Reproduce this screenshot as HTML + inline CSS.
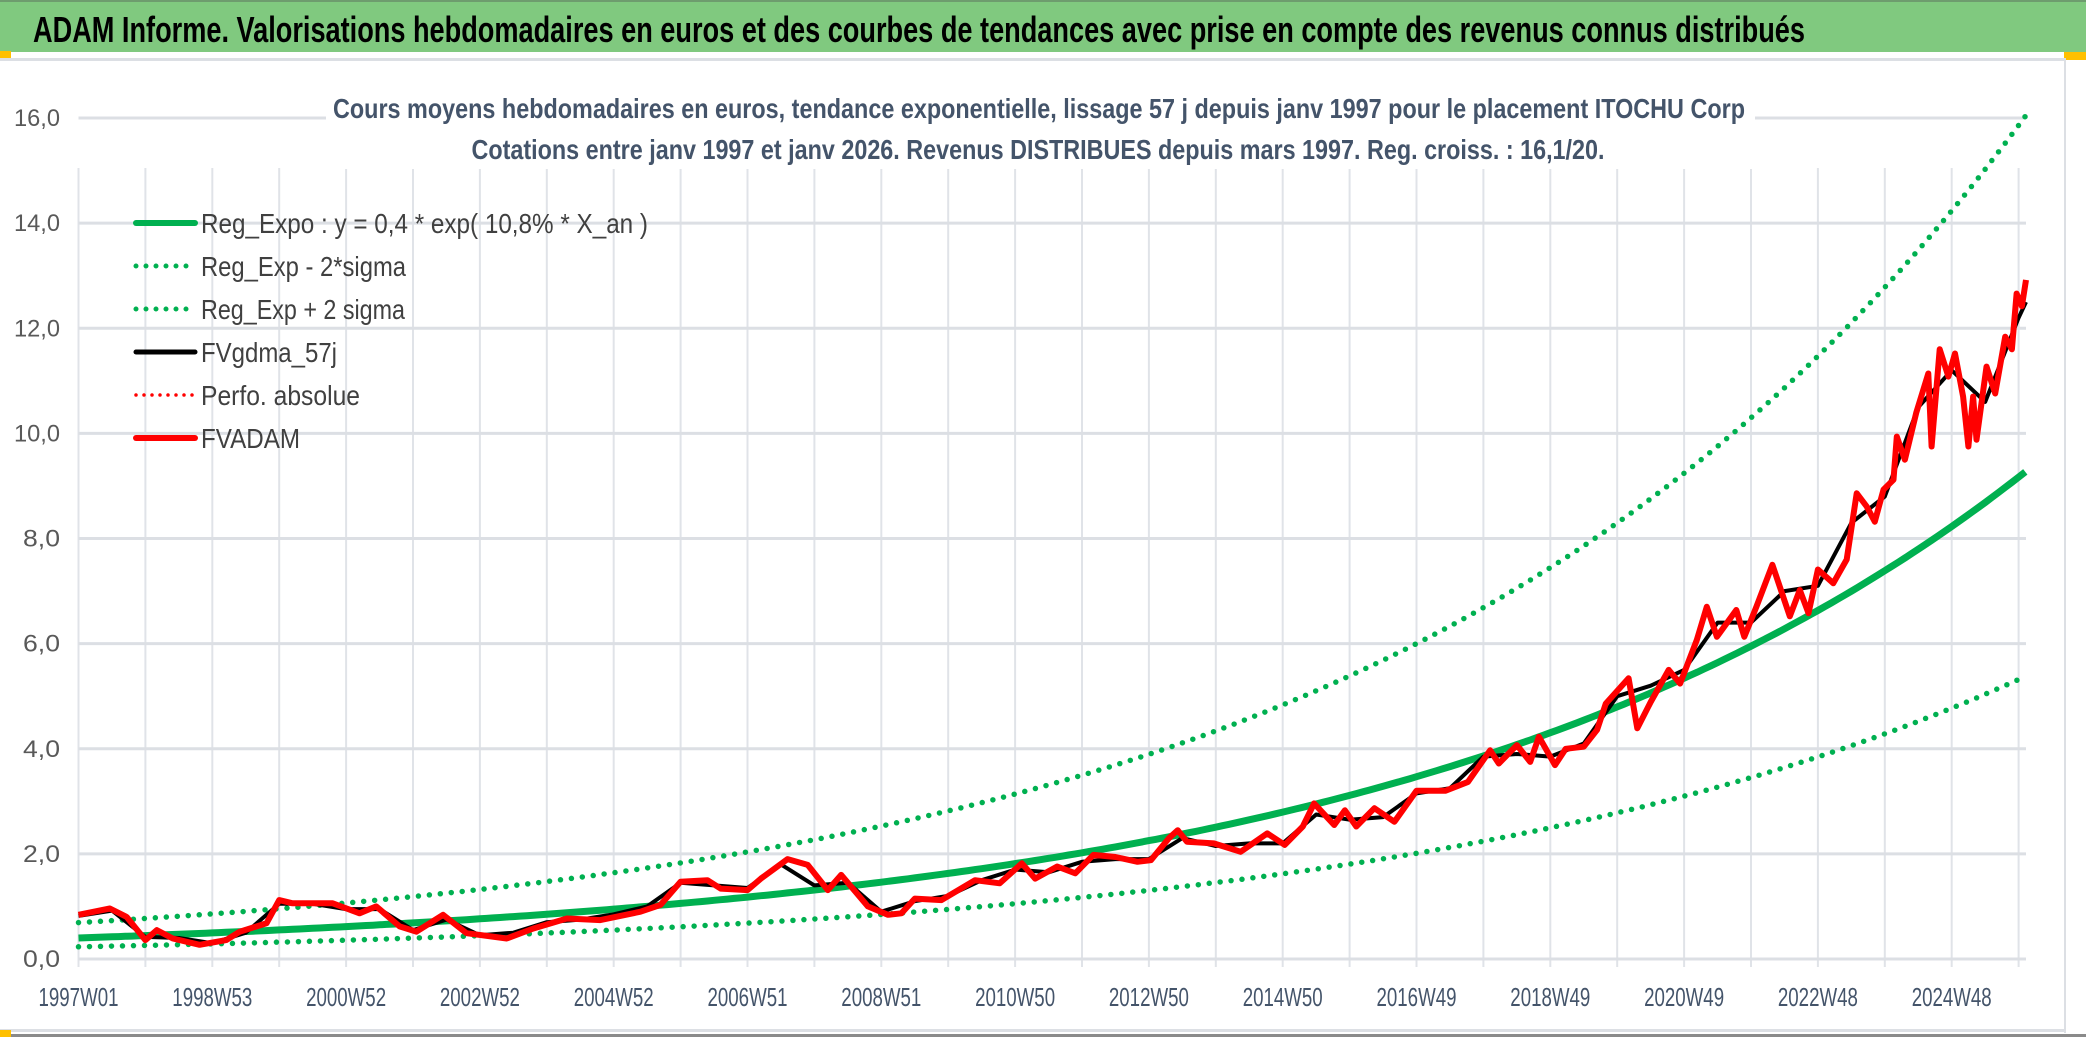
<!DOCTYPE html>
<html><head><meta charset="utf-8"><style>
html,body{margin:0;padding:0;background:#fff;}
svg{display:block;}
text{font-family:"Liberation Sans Narrow","Liberation Sans",sans-serif;}
</style></head><body>
<svg id="chart" width="2086" height="1037" viewBox="0 0 2086 1037">
<rect x="0" y="0" width="2086" height="1037" fill="#fff"/>
<rect x="0" y="0" width="2086" height="52" fill="#80c97f"/>
<rect x="0" y="0" width="2086" height="2" fill="#6e9c6e"/>
<text x="33" y="42" font-size="36" font-weight="bold" fill="#000" textLength="1772" lengthAdjust="spacingAndGlyphs">ADAM Informe. Valorisations hebdomadaires en euros et des courbes de tendances avec prise en compte des revenus connus distribués</text>
<rect x="0" y="51" width="11" height="8" fill="#ffc000"/>
<rect x="2064" y="52" width="22" height="8" fill="#ffc000"/>
<rect x="0" y="58" width="2066" height="3" fill="#dcdfe4"/>
<rect x="2064" y="58" width="2" height="975" fill="#dcdfe4"/>
<rect x="0" y="1029" width="2066" height="3" fill="#dcdfe4"/>
<rect x="0" y="1034" width="2086" height="3" fill="#8a8a8a"/>
<rect x="0" y="1030" width="11" height="7" fill="#ffc000"/>
<g id="grid"></g>
<g id="series"></g>
<rect x="326" y="85" width="1429" height="84" fill="#fff"/>
<text x="1039" y="118" font-size="28" font-weight="bold" fill="#44546a" text-anchor="middle" textLength="1412" lengthAdjust="spacingAndGlyphs">Cours moyens hebdomadaires en euros, tendance exponentielle, lissage 57 j depuis janv 1997 pour le placement ITOCHU Corp</text>
<text x="1038" y="159" font-size="28" font-weight="bold" fill="#44546a" text-anchor="middle" textLength="1133" lengthAdjust="spacingAndGlyphs">Cotations entre janv 1997 et janv 2026. Revenus DISTRIBUES depuis mars 1997. Reg. croiss. : 16,1/20.</text>
<g id="legend"></g>
<g id="axes"></g>
</svg>
<script>
// ---- data ----
const xTickLabels = ["1997W01","1998W53","2000W52","2002W52","2004W52","2006W51","2008W51","2010W50","2012W50","2014W50","2016W49","2018W49","2020W49","2022W48","2024W48"];
const yTicks = [0,2,4,6,8,10,12,14,16];
const yTickLabels = ["0,0","2,0","4,0","6,0","8,0","10,0","12,0","14,0","16,0"];
const trendParams = [0.4, 0.108];
const sigmaFactors = [0.58, 1.73];
const trendSpan = [0, 29.1];
const adamT = [0,0.47,0.72,1.0,1.17,1.41,1.81,2.21,2.41,2.81,3.0,3.2,3.8,4.2,4.45,4.8,5.05,5.45,5.8,6.4,6.8,7.3,7.8,8.4,8.7,9.0,9.4,9.6,10.0,10.2,10.6,10.9,11.2,11.4,11.8,12.1,12.3,12.5,12.9,13.4,13.77,14.1,14.3,14.63,14.9,15.17,15.5,15.83,16.03,16.3,16.43,16.57,16.97,17.37,17.77,18.03,18.3,18.47,18.77,18.93,19.1,19.37,19.67,20.0,20.43,20.77,21.1,21.23,21.5,21.7,21.83,22.07,22.23,22.5,22.7,22.83,23.17,23.3,23.5,23.77,23.94,24.19,24.34,24.49,24.78,24.9,25.08,25.32,25.58,25.73,25.86,26.0,26.23,26.43,26.58,26.73,26.85,26.98,27.13,27.18,27.3,27.47,27.65,27.7,27.82,27.95,28.05,28.17,28.25,28.32,28.37,28.52,28.65,28.8,28.9,28.97,29.05,29.11];
const adamV = [0.84,0.96,0.8,0.36,0.55,0.39,0.27,0.36,0.52,0.68,1.12,1.06,1.06,0.87,1.0,0.62,0.52,0.84,0.49,0.39,0.58,0.77,0.74,0.9,1.03,1.47,1.5,1.34,1.31,1.53,1.9,1.79,1.31,1.6,1.0,0.84,0.87,1.15,1.12,1.5,1.44,1.82,1.53,1.76,1.63,1.98,1.94,1.85,1.88,2.3,2.45,2.23,2.2,2.04,2.39,2.17,2.52,2.96,2.55,2.83,2.52,2.87,2.61,3.2,3.2,3.37,3.97,3.72,4.07,3.75,4.23,3.69,4.0,4.04,4.36,4.86,5.34,4.39,4.89,5.5,5.24,6.07,6.7,6.13,6.64,6.13,6.7,7.5,6.52,7.02,6.58,7.41,7.15,7.6,8.86,8.61,8.32,8.93,9.12,9.94,9.5,10.39,11.14,9.75,11.6,11.08,11.52,10.7,9.75,10.7,9.88,11.27,10.76,11.84,11.6,12.66,12.42,12.92];
const smoothT = [0,0.5,1.0,1.5,2.0,2.5,3.0,3.5,4.0,4.5,5.0,5.5,6.0,6.5,7.0,7.5,8.0,8.5,9.0,9.5,10.0,10.5,11.0,11.5,12.0,12.5,13.0,13.5,14.0,14.5,15.0,15.5,16.0,16.5,17.0,17.5,18.0,18.5,19.0,19.5,20.0,20.5,21.0,21.5,22.0,22.5,23.0,23.5,24.0,24.5,25.0,25.5,26.0,26.5,27.0,27.5,28.0,28.5,29.0,29.11];
const smoothV = [0.82,0.92,0.42,0.4,0.3,0.5,1.05,1.05,0.95,0.95,0.55,0.75,0.45,0.5,0.7,0.75,0.85,1.0,1.45,1.4,1.35,1.8,1.4,1.45,0.9,1.1,1.2,1.5,1.7,1.65,1.85,1.9,1.9,2.3,2.15,2.2,2.2,2.75,2.65,2.7,3.15,3.25,3.85,3.9,3.85,4.1,5.0,5.2,5.5,6.4,6.4,7.0,7.1,8.3,8.8,10.5,11.2,10.6,12.2,12.5];

// ---- axes ----
const X0 = 78.5, PX_PER_YEAR = 66.9, Y0 = 959, PX_PER_UNIT = 52.56, XEND = 2026;
const xs = t => X0 + t * PX_PER_YEAR;
const ys = v => Y0 - v * PX_PER_UNIT;
const NS = "http://www.w3.org/2000/svg";
function mk(tag, attrs, parent) {
  const el = document.createElementNS(NS, tag);
  for (const k in attrs) el.setAttribute(k, attrs[k]);
  parent.appendChild(el);
  return el;
}
const grid = document.getElementById('grid');
const axes = document.getElementById('axes');
const series = document.getElementById('series');

for (let i = 0; i <= 29; i++) {
  const g = mk('line', {x1: xs(i), x2: xs(i), y1: 168, y2: Y0 + 8, stroke: '#e0e3e8', 'stroke-width': 2}, grid);
  
  
}
yTicks.forEach((v, i) => {
  const g = mk('line', {x1: X0, x2: XEND, y1: ys(v), y2: ys(v), stroke: '#dcdfe4', 'stroke-width': 3}, grid);
  
  
  const t = mk('text', {x: 60, y: ys(v) + 8, 'font-size': 24, fill: '#595959', 'text-anchor': 'end', textLength: (v >= 10 ? 46 : 37), lengthAdjust: 'spacingAndGlyphs'}, axes);
  t.textContent = yTickLabels[i];
  
  
});
xTickLabels.forEach((lab, i) => {
  const t = mk('text', {x: xs(i * 2), y: 1006, 'font-size': 26, fill: '#44546a', 'text-anchor': 'middle', textLength: 80, lengthAdjust: 'spacingAndGlyphs'}, axes);
  t.textContent = lab;
  
  
});

// ---- series ----
function pathFrom(T, V) { return T.map((t, i) => (i ? 'L' : 'M') + xs(t).toFixed(1) + ' ' + ys(V[i]).toFixed(1)).join(' '); }
const trendT = [], trendV = [];
for (let t = trendSpan[0]; t <= trendSpan[1] + 1e-9; t += 0.1) { trendT.push(t); trendV.push(trendParams[0] * Math.exp(trendParams[1] * t)); }
const lowV = trendV.map(v => v * sigmaFactors[0]);
const highV = trendV.map(v => v * sigmaFactors[1]);

const pLow = mk('path', {d: pathFrom(trendT, lowV), fill: 'none', stroke: '#00b050', 'stroke-width': 5.5, 'stroke-linecap': 'round', 'stroke-dasharray': '0 11'}, series);


const pHigh = mk('path', {d: pathFrom(trendT, highV), fill: 'none', stroke: '#00b050', 'stroke-width': 5.5, 'stroke-linecap': 'round', 'stroke-dasharray': '0 11'}, series);


const pTrend = mk('path', {d: pathFrom(trendT, trendV), fill: 'none', stroke: '#00b050', 'stroke-width': 7}, series);


const pSmooth = mk('path', {d: pathFrom(smoothT, smoothV), fill: 'none', stroke: '#000', 'stroke-width': 4, 'stroke-linejoin': 'round'}, series);


const pAdam = mk('path', {d: pathFrom(adamT, adamV), fill: 'none', stroke: '#ff0000', 'stroke-width': 6, 'stroke-linejoin': 'round'}, series);



// ---- legend ----
const legend = document.getElementById('legend');
const legendLabels = ["Reg_Expo : y = 0,4 * exp( 10,8% *  X_an )","Reg_Exp - 2*sigma","Reg_Exp + 2 sigma","FVgdma_57j","Perfo. absolue","FVADAM"];
const legendWidths = [447, 205, 204, 136, 159, 99];
const legendStyles = [['#00b050',6,''],['#00b050',5,'0 10'],['#00b050',5,'0 10'],['#000',5,''],['#ff0000',3.5,'0 8'],['#ff0000',6,'']];
legendLabels.forEach((lab, i) => {
  const cy = 223 + i * 43;
  const st = legendStyles[i];
  const l = mk('line', {x1: 136, x2: 195, y1: cy, y2: cy, stroke: st[0], 'stroke-width': st[1], 'stroke-linecap': 'round'}, legend);
  if (st[2]) l.setAttribute('stroke-dasharray', st[2]);
  
  
  const t = mk('text', {x: 201, y: cy + 10, 'font-size': 28, fill: '#404040', textLength: legendWidths[i], lengthAdjust: 'spacingAndGlyphs'}, legend);
  t.textContent = lab;
  
  
});
</script>
</body></html>
